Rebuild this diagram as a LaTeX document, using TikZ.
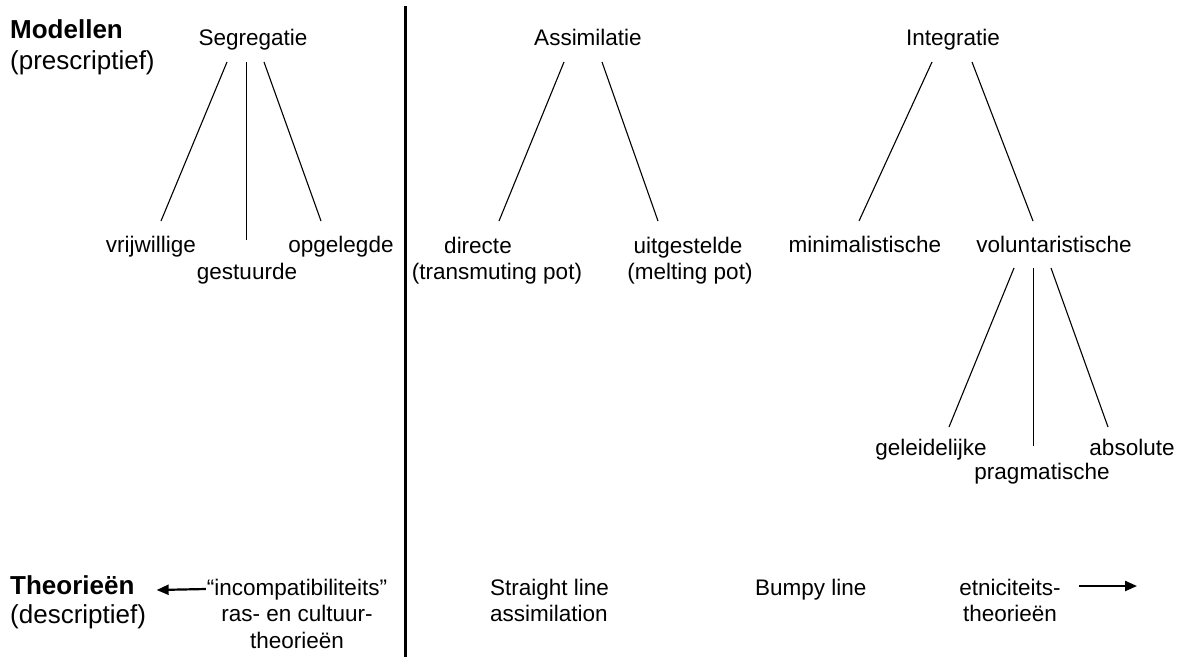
\documentclass[tikz,border=0pt]{standalone}
\usepackage{fontspec}
\setmainfont{Liberation Sans}
\usetikzlibrary{arrows.meta}
\tikzset{
  lbl/.style={font=\fontsize{22.5}{25.5}\selectfont, inner sep=0pt, anchor=base},
  lblw/.style={font=\fontsize{22.5}{25.5}\selectfont, inner sep=0pt, anchor=base west},
  head/.style={font=\fontsize{26}{30}\selectfont\bfseries, inner sep=0pt, anchor=base west},
  subhead/.style={font=\fontsize{26}{30}\selectfont, inner sep=0pt, anchor=base west},
  conn/.style={line width=1.1pt},
  bar/.style={line width=3pt},
  arr/.style={line width=2.2pt, -{Triangle[length=12pt,width=10pt]}}
}
\begin{document}
\begin{tikzpicture}[x=1pt,y=-1pt]
\useasboundingbox (0,0) rectangle (1182,657);

% left headings
\node[head] (mod) at (10,38) {Modellen};
\node[subhead] (pres) at (10,69) {(prescriptief)};
\node[head] (theo) at (10,594) {Theorieën};
\node[subhead] (desc) at (10,623) {(descriptief)};

% divider
\coordinate (bartop) at (405.5,6);
\coordinate (barbot) at (405.5,657);
\draw[bar] (bartop) -- (barbot);

% Segregatie
\node[lbl] (seg) at (253,45) {Segregatie};
\node[lbl] (vrij) at (151,252) {vrijwillige};
\node[lbl] (gest) at (247,279) {gestuurde};
\node[lbl] (opg) at (341,252) {opgelegde};
\draw[conn] ([shift={(-26,17)}]seg.base) -- ([shift={(10,-31)}]vrij.base);
\draw[conn] ([shift={(-6.5,17)}]seg.base) -- ([shift={(-0.5,-39)}]gest.base);
\draw[conn] ([shift={(11,17)}]seg.base) -- ([shift={(-20,-31)}]opg.base);

% Assimilatie
\node[lbl] (ass) at (588,45) {Assimilatie};
\node[lbl] (dir) at (478,253) {directe};
\node[lbl] (dirb) at (497,279) {(transmuting pot)};
\node[lbl] (uit) at (688,253) {uitgestelde};
\node[lbl] (uitb) at (690,279) {(melting pot)};
\draw[conn] ([shift={(-24,17)}]ass.base) -- ([shift={(21,-32)}]dir.base);
\draw[conn] ([shift={(14,17)}]ass.base) -- ([shift={(-30,-32)}]uit.base);

% Integratie
\node[lbl] (int) at (953,45) {Integratie};
\node[lbl] (mini) at (865,252) {minimalistische};
\node[lbl] (vol) at (1054,252) {voluntaristische};
\draw[conn] ([shift={(-21,17)}]int.base) -- ([shift={(-6,-31)}]mini.base);
\draw[conn] ([shift={(19,17)}]int.base) -- ([shift={(-21,-31)}]vol.base);

\node[lbl] (gel) at (931,455) {geleidelijke};
\node[lbl] (prag) at (1042,479) {pragmatische};
\node[lbl] (abs) at (1132,455) {absolute};
\draw[conn] ([shift={(-40,16)}]vol.base) -- ([shift={(18,-28)}]gel.base);
\draw[conn] ([shift={(-20.5,16)}]vol.base) -- ([shift={(-8.5,-33)}]prag.base);
\draw[conn] ([shift={(-3,16)}]vol.base) -- ([shift={(-24,-28)}]abs.base);

% Theories row
\node[lbl] (inc) at (297,595) {“incompatibiliteits”};
\node[lbl] (inc2) at (297,621.5) {ras- en cultuur-};
\node[lbl] (inc3) at (297,648) {theorieën};
\node[lblw] (str) at (490,595) {Straight line};
\node[lblw] (str2) at (490,621.5) {assimilation};
\node[lblw] (bump) at (755,595) {Bumpy line};
\node[lbl] (etn) at (1010,595) {etniciteits-};
\node[lbl] (etn2) at (1010,621.5) {theorieën};

\draw[arr] ([shift={(-1,-6)}]inc.base west) -- ([shift={(22,-4)}]theo.base east);
\coordinate (rend) at (1137,586);
\draw[arr] ([shift={(18,-9)}]etn.base east) -- (rend);
\end{tikzpicture}
\end{document}
